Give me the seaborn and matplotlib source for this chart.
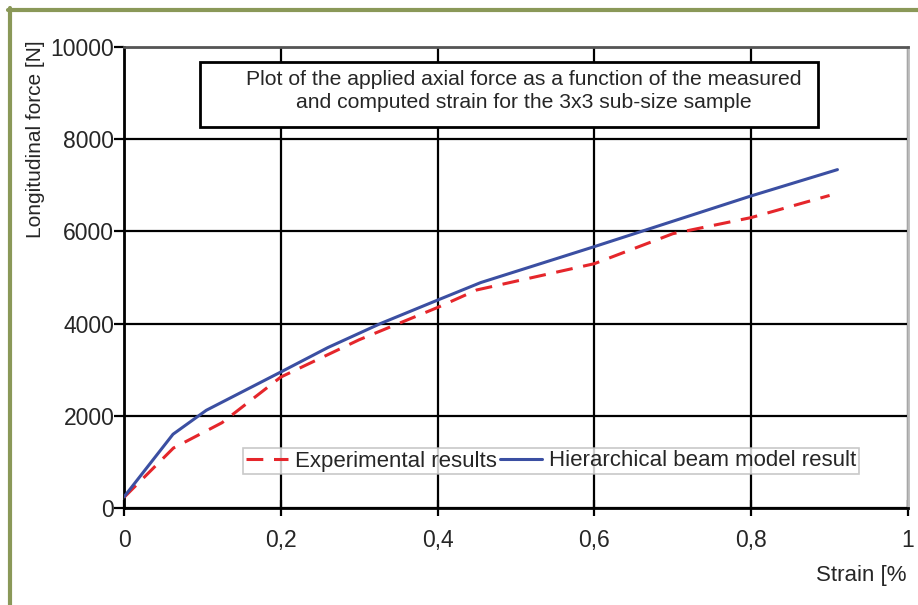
import matplotlib
matplotlib.use("Agg")
import matplotlib.pyplot as plt
import seaborn as sns
import pandas as pd
from matplotlib.patches import Rectangle
from matplotlib.lines import Line2D

# Data
exp_strain = [0.0, 0.063, 0.125, 0.2, 0.3, 0.4, 0.45, 0.6, 0.7, 0.8, 0.9]
exp_force = [230, 1300, 1850, 2840, 3650, 4350, 4730, 5300, 5950, 6300, 6780]
mod_strain = [0.0, 0.0625, 0.105, 0.2, 0.26, 0.327, 0.4, 0.455, 0.6, 0.8, 0.91]
mod_force = [240, 1600, 2120, 2950, 3480, 4000, 4510, 4890, 5670, 6770, 7340]
x_ticks = [0, 0.2, 0.4, 0.6, 0.8, 1]
x_ticklabels = ["0", "0,2", "0,4", "0,6", "0,8", "1"]
y_ticks = [0, 2000, 4000, 6000, 8000, 10000]
y_ticklabels = ["0", "2000", "4000", "6000", "8000", "10000"]
label_exp = "Experimental results"
label_mod = "Hierarchical beam model result"
title_lines = "Plot of the applied axial force as a function of the measured\nand computed strain for the 3x3 sub-size sample"

sns.set_theme(style="white")
plt.rcParams['font.family'] = ['Liberation Sans', 'DejaVu Sans']

df_exp = pd.DataFrame({"strain": exp_strain, "force": exp_force})
df_mod = pd.DataFrame({"strain": mod_strain, "force": mod_force})

fig = plt.figure(figsize=(9.18, 6.05), dpi=100)
W, H = 918, 605
ax = fig.add_axes([124 / W, 1 - 508 / H, (908 - 124) / W, (508 - 47) / H])

sns.lineplot(data=df_exp, x="strain", y="force", ax=ax, color="#e5262b",
             linewidth=2.2, dashes=False, label=label_exp, zorder=4)
ax.lines[-1].set_dashes((5.5, 3.5))
sns.lineplot(data=df_mod, x="strain", y="force", ax=ax, color="#3b4fa2",
             linewidth=2.2, label=label_mod, zorder=5)

ax.set_xlim(0, 1)
ax.set_ylim(0, 10000)
ax.set_xticks(x_ticks)
ax.set_xticklabels(x_ticklabels)
ax.set_yticks(y_ticks)
ax.set_yticklabels(y_ticklabels)
ax.set_xlabel("")
ax.set_ylabel("")

ax.grid(True, color="black", linewidth=1.6)
ax.set_axisbelow(True)
for s in ["left", "bottom"]:
    ax.spines[s].set_color("black")
    ax.spines[s].set_linewidth(2)
ax.spines["top"].set_color("#555555")
ax.spines["top"].set_linewidth(2)
ax.spines["right"].set_color("#bbbbbb")
ax.spines["right"].set_linewidth(2)

ax.tick_params(axis="y", direction="out", length=7, width=1.6, color="black",
               labelsize=16.5, pad=0, left=True)
ax.tick_params(axis="x", direction="inout", length=12, width=1.6, color="black",
               labelsize=16.5, pad=9, bottom=True)

# Title box
ax.add_patch(Rectangle((76 / 784, (508 - 127) / 461), 618 / 784, 65 / 461,
                       transform=ax.transAxes, facecolor="white",
                       edgecolor="black", linewidth=2, zorder=6))
ax.text((524 - 124) / 784, (508 - 91) / 461, title_lines, transform=ax.transAxes,
        ha="center", va="center", fontsize=15.2, linespacing=1.3, zorder=7)

leg = ax.legend(loc="center", bbox_to_anchor=((551 - 124) / 784, (508 - 461) / 461),
                ncol=2, fontsize=16, frameon=True, fancybox=False,
                handlelength=1.9, handletextpad=0.3, columnspacing=0.15,
                borderpad=0.12, borderaxespad=0)
leg.get_frame().set_edgecolor("#bbbbbb")
leg.get_frame().set_linewidth(1.2)
leg.set_zorder(8)

# Axis labels
fig.text(36 / W, 1 - 139 / H, "Longitudinal force [N]", rotation=90,
         ha="center", va="center", fontsize=15)
fig.text(907 / W, 1 - 575 / H, "Strain [%", ha="right", va="center", fontsize=16)

# Olive frame
olive = "#8a9858"
fig.add_artist(Line2D([8 / W, 1], [1 - 10 / H, 1 - 10 / H], color=olive,
                      linewidth=3, transform=fig.transFigure))
fig.add_artist(Line2D([10 / W, 10 / W], [0, 1 - 8 / H], color=olive,
                      linewidth=3, transform=fig.transFigure))

fig.savefig("out.png", dpi=100)
